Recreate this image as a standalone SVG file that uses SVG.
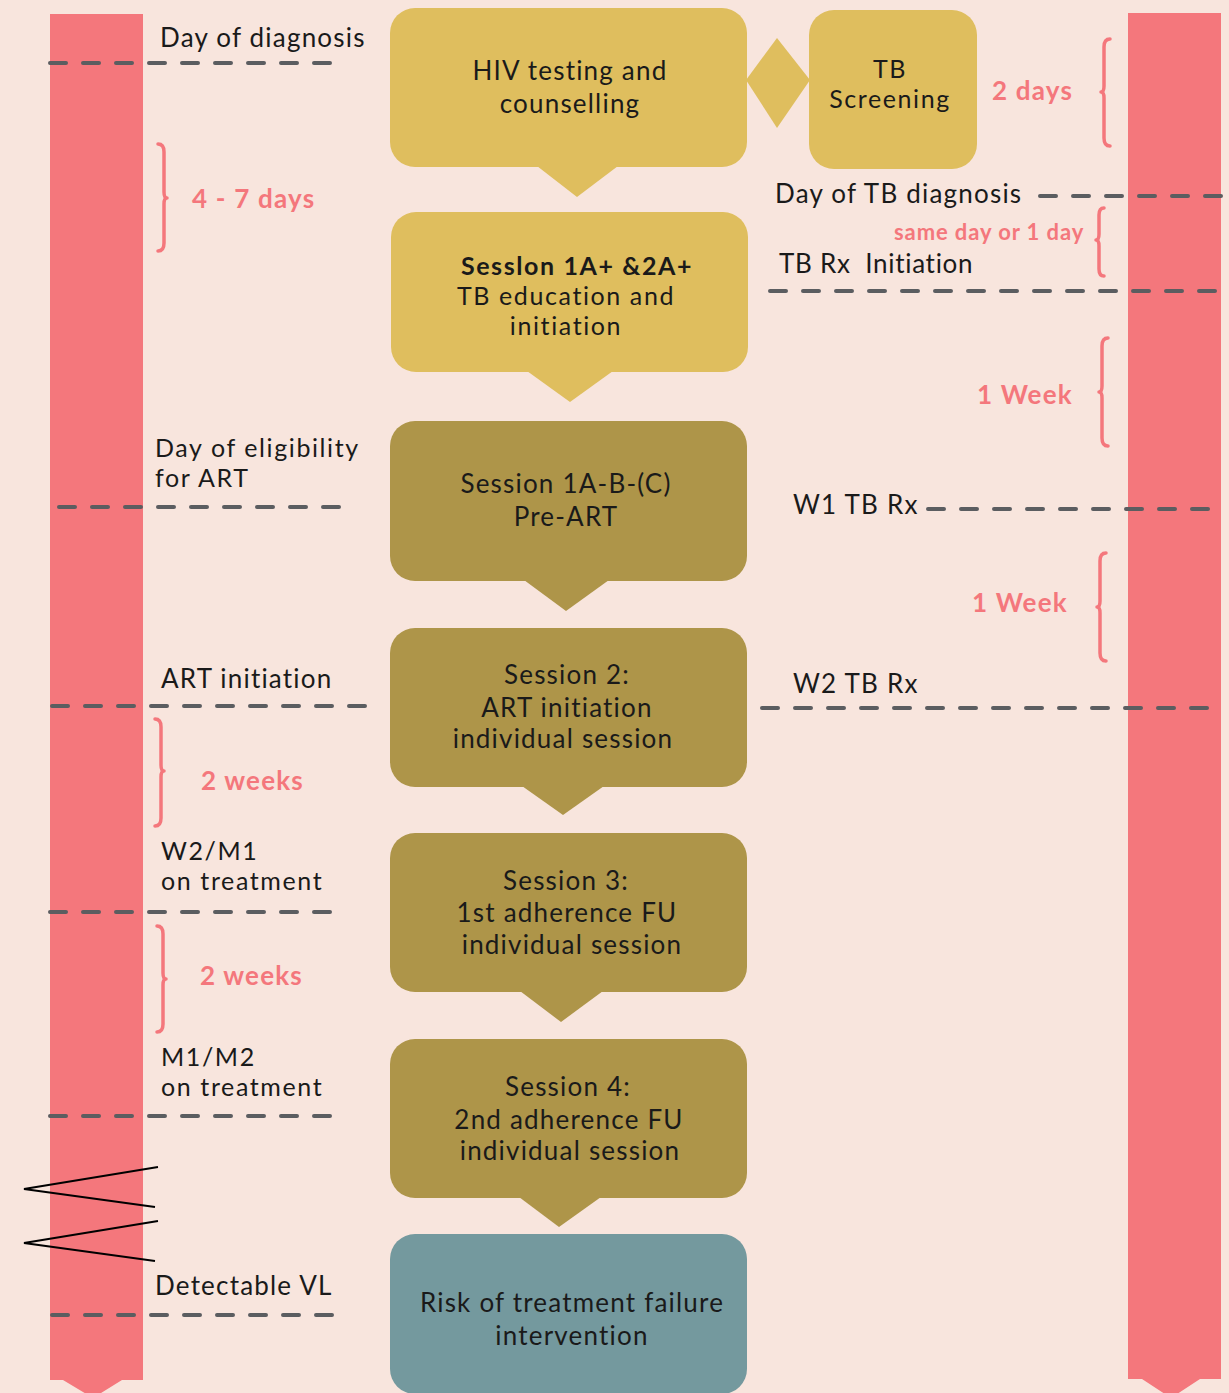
<svg xmlns="http://www.w3.org/2000/svg" width="1229" height="1393" viewBox="0 0 1229 1393">
<style>
.t{font-family:Lato,"Open Sans","DejaVu Sans",sans-serif;font-size:26px;letter-spacing:1.2px;fill:#1a1a1a}
.s{font-size:25px;letter-spacing:1.6px}
.c{text-anchor:middle}
.p{font-family:Lato,"Open Sans","DejaVu Sans",sans-serif;font-size:26px;letter-spacing:1.2px;font-weight:700;fill:#F4777C}
.gold{fill:#DFBE5E}
.olive{fill:#AE9549}
.teal{fill:#74999E}
.bar{fill:#F4777C}
.dash{stroke:#5B5D60;stroke-width:4;stroke-linecap:round;stroke-dasharray:16 17;fill:none}
.brace{stroke:#F4777C;stroke-width:3.5;fill:none;stroke-linecap:round;stroke-linejoin:round}
.zz{stroke:#000;stroke-width:2;fill:none}
</style>
<rect width="1229" height="1393" fill="#F8E5DD"/>
<g id="timeline-left">
<path class="bar" d="M50,14 H143 V1380 H122 L93,1398 L63,1380 H50 Z"/>
</g>
<g id="timeline-right">
<path class="bar" d="M1128,13 H1221 V1379 H1200 L1171,1398 L1142,1379 H1128 Z"/>
</g>
<g id="connectors">
<line class="dash" x1="50" y1="63" x2="332" y2="63"/>
<line class="dash" x1="1040" y1="196" x2="1223" y2="196"/>
<line class="dash" x1="770" y1="291" x2="1223" y2="291"/>
<line class="dash" x1="59" y1="507" x2="340" y2="507"/>
<line class="dash" x1="928" y1="509" x2="1223" y2="509"/>
<line class="dash" x1="52" y1="706" x2="375" y2="706"/>
<line class="dash" x1="762" y1="708" x2="1223" y2="708"/>
<line class="dash" x1="50" y1="912" x2="332" y2="912"/>
<line class="dash" x1="50" y1="1116" x2="332" y2="1116"/>
<line class="dash" x1="52" y1="1315" x2="332" y2="1315"/>
<path class="brace" d="M158,144 Q164,144 164,152 L164,192 Q164,198 167,198 Q164,198 164,204 L164,243 Q164,251 158,251"/>
<path class="brace" d="M155,719 Q161,719 161,727 L161,765 Q161,771 164,771 Q161,771 161,777 L161,818 Q161,826 155,826"/>
<path class="brace" d="M157,926 Q163,926 163,934 L163,973 Q163,979 166,979 Q163,979 163,985 L163,1024 Q163,1032 157,1032"/>
<path class="brace" d="M1110,39 Q1104,39 1104,47 L1104,86 Q1104,92 1101,92 Q1104,92 1104,98 L1104,138 Q1104,146 1110,146"/>
<path class="brace" d="M1104,208 Q1099,208 1099,215 L1099,234 Q1099,240 1096,240 Q1099,240 1099,246 L1099,269 Q1099,276 1104,276"/>
<path class="brace" d="M1108,338 Q1102,338 1102,346 L1102,386 Q1102,392 1099,392 Q1102,392 1102,398 L1102,438 Q1102,446 1108,446"/>
<path class="brace" d="M1106,553 Q1100,553 1100,561 L1100,601 Q1100,607 1097,607 Q1100,607 1100,613 L1100,653 Q1100,661 1106,661"/>
<polyline class="zz" points="158,1167 24,1189 155,1207"/>
<polyline class="zz" points="158,1221 24,1243 155,1261"/>
</g>
<g id="labels">
<text class="t" x="160" y="47">Day of diagnosis</text>
<text class="p" x="192" y="208">4 - 7 days</text>
<text class="p" x="992" y="100">2 days</text>
<text class="t" x="775" y="203">Day of TB diagnosis</text>
<text class="p" x="894" y="240" style="font-size:22px;letter-spacing:0.9px">same day or 1 day</text>
<text class="t" x="779" y="273" style="white-space:pre;letter-spacing:0.7px">TB Rx  Initiation</text>
<text class="p" x="977" y="404">1 Week</text>
<text class="t s" x="155" y="457">Day of eligibility</text>
<text class="t s" x="155" y="487">for ART</text>
<text class="t" x="793" y="514">W1 TB Rx</text>
<text class="p" x="972" y="612">1 Week</text>
<text class="t" x="161" y="688">ART initiation</text>
<text class="t" x="793" y="693">W2 TB Rx</text>
<text class="p" x="201" y="790">2 weeks</text>
<text class="t s" x="161" y="860">W2/M1</text>
<text class="t s" x="161" y="890">on treatment</text>
<text class="p" x="200" y="985">2 weeks</text>
<text class="t s" x="161" y="1066">M1/M2</text>
<text class="t s" x="161" y="1096">on treatment</text>
<text class="t" x="155" y="1295">Detectable VL</text>
</g>
<g id="hiv-testing">
<rect class="gold" x="390" y="8" width="357" height="159" rx="25"/>
<polygon class="gold" points="537,166 618,166 577,197"/>
<text class="t c" x="570" y="80">HIV testing and</text>
<text class="t c" x="570" y="113">counselling</text>
</g>
<g id="link-diamond">
<polygon class="gold" points="777,38 810,80 777,128 746,80"/>
</g>
<g id="tb-screening">
<rect class="gold" x="809" y="10" width="168" height="159" rx="25"/>
<text class="t s c" x="890" y="78">TB</text>
<text class="t s c" x="890" y="108">Screening</text>
</g>
<g id="session-1a-plus">
<rect class="gold" x="391" y="212" width="357" height="160" rx="25"/>
<polygon class="gold" points="527,371 613,371 570,402"/>
<text class="t s c" x="577" y="275" style="font-weight:700">Sesslon 1A+ &amp;2A+</text>
<text class="t s c" x="566" y="305">TB education and</text>
<text class="t s c" x="566" y="335">initiation</text>
</g>
<g id="session-1abc">
<rect class="olive" x="390" y="421" width="357" height="160" rx="25"/>
<polygon class="olive" points="524,580 609,580 566,611"/>
<text class="t c" x="566" y="493">Session 1A-B-(C)</text>
<text class="t c" x="566" y="526">Pre-ART</text>
</g>
<g id="session-2">
<rect class="olive" x="390" y="628" width="357" height="159" rx="25"/>
<polygon class="olive" points="522,786 604,786 563,815"/>
<text class="t c" x="567" y="684">Session 2:</text>
<text class="t c" x="567" y="717">ART initiation</text>
<text class="t c" x="563" y="748">individual session</text>
</g>
<g id="session-3">
<rect class="olive" x="390" y="833" width="357" height="159" rx="25"/>
<polygon class="olive" points="520,991 603,991 561,1022"/>
<text class="t c" x="566" y="890">Session 3:</text>
<text class="t c" x="567" y="922">1st adherence FU</text>
<text class="t c" x="572" y="954">individual session</text>
</g>
<g id="session-4">
<rect class="olive" x="390" y="1039" width="357" height="159" rx="25"/>
<polygon class="olive" points="519,1197 601,1197 559,1227"/>
<text class="t c" x="568" y="1096">Session 4:</text>
<text class="t c" x="569" y="1129">2nd adherence FU</text>
<text class="t c" x="570" y="1160">individual session</text>
</g>
<g id="risk-intervention">
<rect class="teal" x="390" y="1234" width="357" height="160" rx="25"/>
<text class="t c" x="572" y="1312">Risk of treatment failure</text>
<text class="t c" x="572" y="1345">intervention</text>
</g>
</svg>
